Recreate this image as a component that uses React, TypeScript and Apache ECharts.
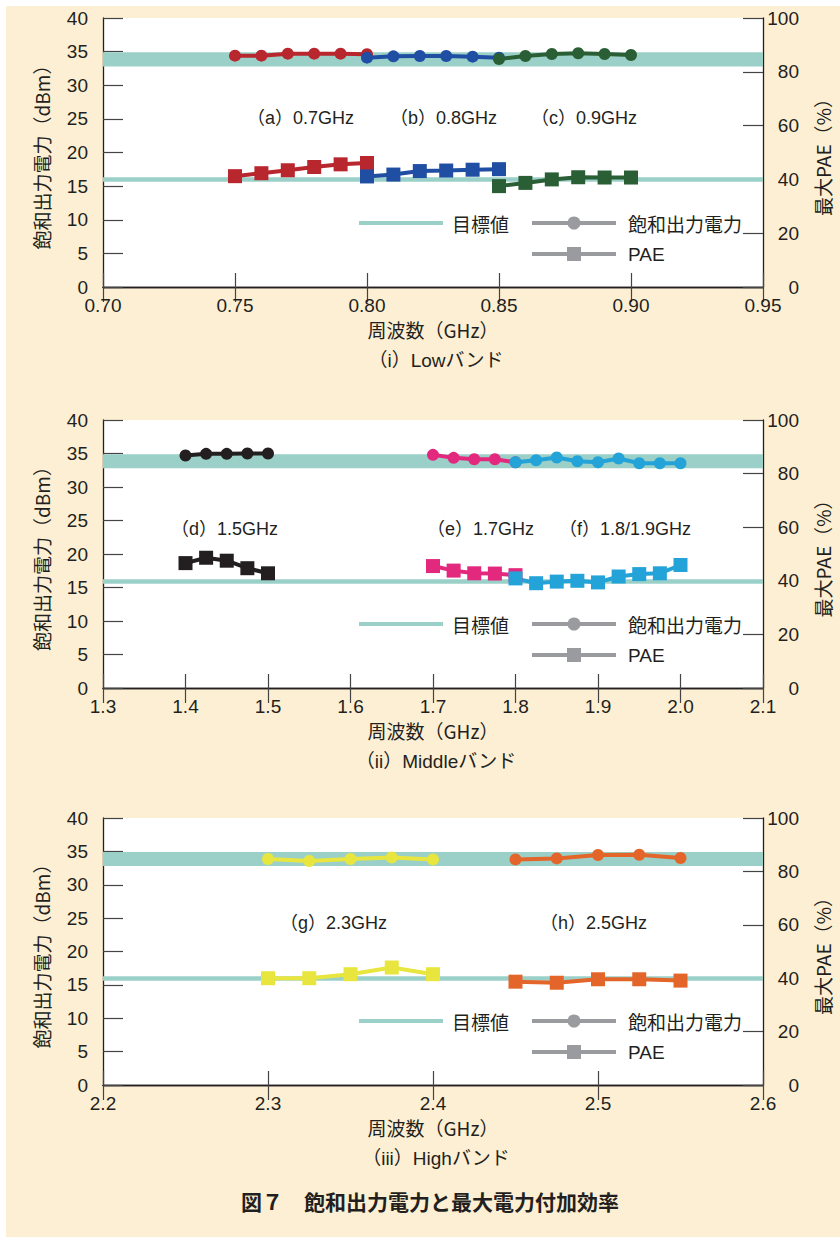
import React, { useEffect, useRef } from 'react';
import * as echarts from 'echarts';

// ---------- data ----------
// Panel (i) Low band
const freqA = [0.75, 0.76, 0.77, 0.78, 0.79, 0.80];
const psatA = [34.4, 34.4, 34.7, 34.7, 34.7, 34.6];
const paeA = [41.2, 42.3, 43.4, 44.6, 45.6, 46.1];
const freqB = [0.80, 0.81, 0.82, 0.83, 0.84, 0.85];
const psatB = [34.1, 34.3, 34.35, 34.35, 34.25, 34.1];
const paeB = [41.1, 41.8, 43.1, 43.3, 43.6, 43.8];
const freqC = [0.85, 0.86, 0.87, 0.88, 0.89, 0.90];
const psatC = [33.9, 34.35, 34.65, 34.75, 34.65, 34.5];
const paeC = [37.5, 38.7, 40.0, 40.8, 40.7, 40.7];

// Panel (ii) Middle band
const freqD = [1.40, 1.425, 1.45, 1.475, 1.50];
const psatD = [34.7, 34.95, 34.95, 35.0, 35.0];
const paeD = [46.6, 48.6, 47.5, 44.7, 42.8];
const freqE = [1.70, 1.725, 1.75, 1.775, 1.80];
const psatE = [34.8, 34.35, 34.15, 34.15, 33.7];
const paeE = [45.5, 43.8, 42.8, 42.7, 42.1];
const freqF = [1.80, 1.825, 1.85, 1.875, 1.90, 1.925, 1.95, 1.975, 2.00];
const psatF = [33.7, 34.0, 34.4, 33.85, 33.7, 34.25, 33.55, 33.55, 33.55];
const paeF = [40.9, 39.1, 39.7, 40.0, 39.4, 41.6, 42.5, 42.8, 45.9];

// Panel (iii) High band
const freqG = [2.30, 2.325, 2.35, 2.375, 2.40];
const psatG = [33.85, 33.55, 33.85, 34.1, 33.8];
const paeG = [40.0, 40.0, 41.5, 44.0, 41.5];
const freqH = [2.45, 2.475, 2.50, 2.525, 2.55];
const psatH = [33.8, 33.95, 34.45, 34.5, 34.0];
const paeH = [38.7, 38.3, 39.6, 39.6, 39.1];

// targets
const psatTarget = [32.8, 34.9]; // dBm band
const paeTarget = 40; // %

// axes
const xRanges = [
  { min: 0.7, max: 0.95, interval: 0.05, dec: 2 },
  { min: 1.3, max: 2.1, interval: 0.1, dec: 1 },
  { min: 2.2, max: 2.6, interval: 0.1, dec: 1 },
];
const captions = ['（i）Lowバンド', '（ii）Middleバンド', '（iii）Highバンド'];
const xName = '周波数（GHz）';
const yLeftName = '飽和出力電力（dBm）';
const yRightName = '最大PAE（%）';
const titleText = '図７　飽和出力電力と最大電力付加効率';
const legendNames = ['目標値', '飽和出力電力', 'PAE'];

// ---------- style ----------
const FONT = "'Liberation Sans', 'Noto Sans CJK JP', sans-serif";
const CJK = "'Noto Sans CJK JP', 'Liberation Sans', sans-serif";
const INK = '#231f20';
const TEAL = '#9bd0c8';
const GRAY = '#9a9b9e';
const RED = '#b8262e';
const BLUE = '#1f4ea3';
const GREEN = '#2a5e34';
const BLACK = '#231f20';
const PINK = '#e3297e';
const CYAN = '#24a3d8';
const YELLOW = '#e8e63e';
const ORANGE = '#e4652a';

const grids = [
  { left: 103, top: 18, width: 666, height: 269 },
  { left: 103, top: 420, width: 666, height: 268 },
  { left: 103, top: 818, width: 666, height: 267 },
];

const panelSeries = [
  [
    { name: '(a)', f: freqA, p: psatA, e: paeA, color: RED },
    { name: '(b)', f: freqB, p: psatB, e: paeB, color: BLUE },
    { name: '(c)', f: freqC, p: psatC, e: paeC, color: GREEN },
  ],
  [
    { name: '(d)', f: freqD, p: psatD, e: paeD, color: BLACK },
    { name: '(e)', f: freqE, p: psatE, e: paeE, color: PINK },
    { name: '(f)', f: freqF, p: psatF, e: paeF, color: CYAN },
  ],
  [
    { name: '(g)', f: freqG, p: psatG, e: paeG, color: YELLOW },
    { name: '(h)', f: freqH, p: psatH, e: paeH, color: ORANGE },
  ],
];

const notes = [
  [
    { text: '（a）0.7GHz', x: 247, y: 118 },
    { text: '（b）0.8GHz', x: 390, y: 118 },
    { text: '（c）0.9GHz', x: 531, y: 118 },
  ],
  [
    { text: '（d）1.5GHz', x: 171, y: 529 },
    { text: '（e）1.7GHz', x: 427, y: 529 },
    { text: '（f）1.8/1.9GHz', x: 559, y: 529 },
  ],
  [
    { text: '（g）2.3GHz', x: 280, y: 923 },
    { text: '（h）2.5GHz', x: 540, y: 923 },
  ],
];

function buildOption() {
  const xAxis: any[] = [];
  const yAxis: any[] = [];
  const series: any[] = [];
  const graphic: any[] = [];

  grids.forEach((g, i) => {
    const r = xRanges[i];
    const bottom = g.top + g.height;
    xAxis.push({
      type: 'value', gridIndex: i, position: 'bottom', min: r.min, max: r.max, interval: r.interval,
      axisLine: { show: true, lineStyle: { color: INK, width: 1.3 } },
      axisTick: { show: true, inside: true, length: 14, lineStyle: { color: '#444', width: 1.2 } },
      axisLabel: { margin: 9, fontSize: 19, fontFamily: FONT, color: INK, formatter: (v: number) => v.toFixed(r.dec) },
      splitLine: { show: false },
      name: xName, nameLocation: 'middle', nameGap: 33,
      nameTextStyle: { fontSize: 19, fontFamily: CJK, color: INK },
    });
    xAxis.push({
      type: 'value', gridIndex: i, position: 'top', min: r.min, max: r.max, interval: r.interval,
      axisLine: { show: true, lineStyle: { color: INK, width: 1.3 } },
      axisTick: { show: true, inside: true, length: 15, lineStyle: { color: '#444', width: 1.2 } },
      axisLabel: { show: false }, splitLine: { show: false },
    });
    yAxis.push({
      type: 'value', gridIndex: i, position: 'left', min: 0, max: 40, interval: 5,
      axisLine: { show: true, lineStyle: { color: INK, width: 1.3 } },
      axisTick: { show: true, inside: true, length: 20, lineStyle: { color: '#444', width: 1.2 } },
      axisLabel: { margin: 15, fontSize: 19, fontFamily: FONT, color: INK },
      splitLine: { show: false },
      name: yLeftName, nameLocation: 'middle', nameGap: 52, nameRotate: 90,
      nameTextStyle: { fontSize: 19, fontFamily: CJK, color: INK },
    });
    yAxis.push({
      type: 'value', gridIndex: i, position: 'right', min: 0, max: 100, interval: 20,
      axisLine: { show: true, lineStyle: { color: INK, width: 1.3 } },
      axisTick: { show: true, inside: true, length: 20, lineStyle: { color: '#444', width: 1.2 } },
      axisLabel: { margin: 36, align: 'right', fontSize: 19, fontFamily: FONT, color: INK },
      splitLine: { show: false },
      name: yRightName, nameLocation: 'middle', nameGap: 50, nameRotate: 90,
      nameTextStyle: { fontSize: 19, fontFamily: CJK, color: INK },
    });

    panelSeries[i].forEach((s, k) => {
      const psat: any = {
        type: 'line', name: s.name + ' Psat', xAxisIndex: 2 * i, yAxisIndex: 2 * i,
        data: s.f.map((f, j) => [f, s.p[j]]),
        symbol: 'circle', symbolSize: 12,
        lineStyle: { color: s.color, width: 4 },
        itemStyle: { color: s.color },
      };
      const pae: any = {
        type: 'line', name: s.name + ' PAE', xAxisIndex: 2 * i, yAxisIndex: 2 * i + 1,
        data: s.f.map((f, j) => [f, s.e[j]]),
        symbol: 'rect', symbolSize: 14,
        lineStyle: { color: s.color, width: 4 },
        itemStyle: { color: s.color },
      };
      if (k === 0) {
        psat.markArea = {
          silent: true, z: 1,
          itemStyle: { color: TEAL },
          data: [[{ yAxis: psatTarget[0] }, { yAxis: psatTarget[1] }]],
        };
        pae.markLine = {
          silent: true, z: 1, symbol: ['none', 'none'],
          label: { show: false },
          lineStyle: { color: TEAL, width: 4.5, type: 'solid' },
          data: [{ yAxis: paeTarget }],
        };
      }
      series.push(psat, pae);
    });

    notes[i].forEach((n) => {
      graphic.push({
        type: 'text', x: n.x, y: n.y,
        style: { text: n.text, fontSize: 18, fontFamily: FONT, fill: INK, align: 'left', verticalAlign: 'middle' },
      });
    });

    // legend
    const r1 = bottom - 64;
    const r2 = bottom - 33;
    graphic.push(
      { type: 'line', shape: { x1: 359, y1: r1, x2: 443, y2: r1 }, style: { stroke: TEAL, lineWidth: 4 } },
      { type: 'text', x: 452, y: r1, style: { text: legendNames[0], fontSize: 19, fontFamily: CJK, fill: INK, verticalAlign: 'middle' } },
      { type: 'line', shape: { x1: 532, y1: r1, x2: 616, y2: r1 }, style: { stroke: GRAY, lineWidth: 4 } },
      { type: 'circle', shape: { cx: 574, cy: r1, r: 6.5 }, style: { fill: GRAY } },
      { type: 'text', x: 628, y: r1, style: { text: legendNames[1], fontSize: 19, fontFamily: CJK, fill: INK, verticalAlign: 'middle' } },
      { type: 'line', shape: { x1: 532, y1: r2, x2: 616, y2: r2 }, style: { stroke: GRAY, lineWidth: 4 } },
      { type: 'rect', shape: { x: 567, y: r2 - 7, width: 14, height: 14 }, style: { fill: GRAY } },
      { type: 'text', x: 628, y: r2, style: { text: legendNames[2], fontSize: 19, fontFamily: FONT, fill: INK, verticalAlign: 'middle' } },
    );

    graphic.push({
      type: 'text', x: 436, y: bottom + 73,
      style: { text: captions[i], fontSize: 19, fontFamily: FONT, fill: INK, align: 'center', verticalAlign: 'middle' },
    });
  });

  graphic.push({
    type: 'text', x: 430, y: 1201,
    style: { text: titleText, fontSize: 21, fontWeight: 'bold', fontFamily: CJK, fill: INK, align: 'center', verticalAlign: 'middle' },
  });

  return {
    animation: false,
    backgroundColor: 'transparent',
    grid: grids.map((g) => ({ ...g, show: true, backgroundColor: '#ffffff', borderWidth: 0 })),
    xAxis,
    yAxis,
    series,
    graphic,
  };
}

export default function App() {
  const ref = useRef<HTMLDivElement>(null);
  useEffect(() => {
    if (!ref.current) return;
    const chart = echarts.init(ref.current, undefined, { renderer: 'svg' });
    chart.setOption(buildOption() as any);
    return () => chart.dispose();
  }, []);
  return (
    <div style={{ position: 'fixed', left: 0, top: 0, width: 840, height: 1237, background: '#ffffff' }}>
      <div style={{ position: 'absolute', left: 6, top: 6, width: 834, height: 1231, background: '#fdefd3' }} />
      <div ref={ref} style={{ position: 'absolute', left: 0, top: 0, width: 840, height: 1237 }} />
    </div>
  );
}
